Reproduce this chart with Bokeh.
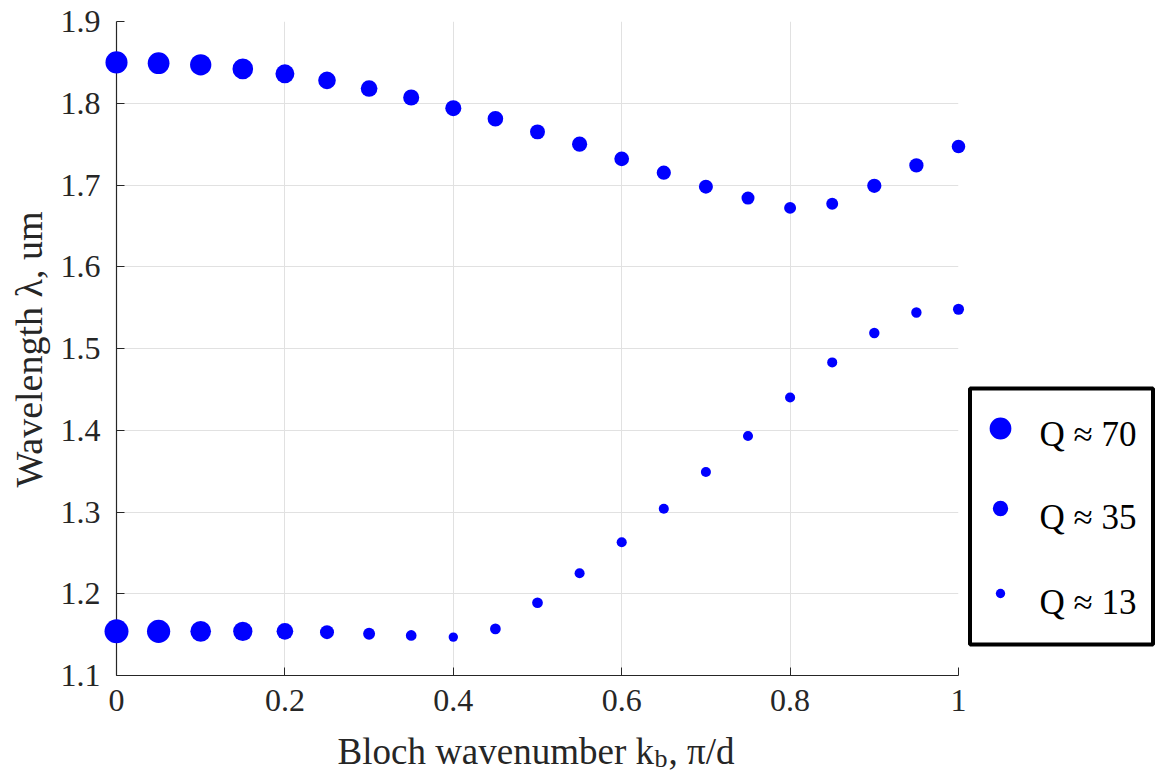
import math
from bokeh.plotting import figure
from bokeh.models import ColumnDataSource, FixedTicker, Range1d
from bokeh.core.properties import value
from bokeh.embed import file_html
from bokeh.resources import INLINE

# ---------------- data ----------------
k_b = [0.0, 0.05, 0.1, 0.15, 0.2, 0.25, 0.3, 0.35, 0.4, 0.45, 0.5,
       0.55, 0.6, 0.65, 0.7, 0.75, 0.8, 0.85, 0.9, 0.95, 1.0]
wl_upper = [1.850, 1.849, 1.847, 1.842, 1.836, 1.828, 1.818, 1.807, 1.794, 1.781, 1.765,
            1.750, 1.732, 1.715, 1.698, 1.684, 1.672, 1.677, 1.699, 1.724, 1.747]
wl_lower = [1.154, 1.154, 1.154, 1.154, 1.154, 1.153, 1.151, 1.149, 1.147, 1.157, 1.189,
            1.225, 1.263, 1.304, 1.349, 1.393, 1.440, 1.483, 1.519, 1.544, 1.548]
q_upper = [72, 70, 67, 63, 53, 46, 41, 38, 38, 36, 33, 34, 32, 30, 29, 25, 21, 21, 30, 30, 27]
q_lower = [85, 80, 63, 55, 41, 29, 21, 17, 13, 17, 17, 15, 15, 15, 15, 15, 15, 15, 16, 16, 18]
legend_q = [70, 35, 13]
legend_labels = ["Q \u2248 70", "Q \u2248 35", "Q \u2248 13"]
x_ticks = [0, 0.2, 0.4, 0.6, 0.8, 1]
x_tick_labels = ["0", "0.2", "0.4", "0.6", "0.8", "1"]
y_ticks = [1.1, 1.2, 1.3, 1.4, 1.5, 1.6, 1.7, 1.8, 1.9]
y_tick_labels = ["1.1", "1.2", "1.3", "1.4", "1.5", "1.6", "1.7", "1.8", "1.9"]
x_label_parts = ["Bloch wavenumber k", "b", ", \u03c0/d"]
y_label = "Wavelength \u03bb, um"

# ---------------- style ----------------
FONT = "Liberation Serif"
BLUE = "#0000ff"
AX = "#262626"
GRID = "#e1e1e1"


def q_to_size(q):
    # marker area proportional to Q (diameter ~ sqrt(Q))
    return 2.6 * math.sqrt(q)


W, H = 1155, 772
FL, FT, FW, FH = 116, 21, 842, 654
XR = (0.0, 1.0)
YR = (1.1, 1.9)


def dx(px):
    return XR[0] + (px - FL) / FW * (XR[1] - XR[0])


def dy(px):
    return YR[1] - (px - FT) / FH * (YR[1] - YR[0])


p = figure(frame_width=FW, frame_height=FH, x_range=Range1d(*XR), y_range=Range1d(*YR),
           output_backend="svg", toolbar_location=None,
           min_border_left=FL, min_border_right=W - FL - FW, min_border_top=FT,
           min_border_bottom=H - FT - FH)
p.outline_line_color = None
p.background_fill_color = "white"
p.border_fill_color = "white"

p.xaxis.ticker = FixedTicker(ticks=x_ticks, minor_ticks=[])
p.yaxis.ticker = FixedTicker(ticks=y_ticks, minor_ticks=[])
p.xaxis.major_label_overrides = {t: l for t, l in zip(x_ticks, x_tick_labels)}
p.yaxis.major_label_overrides = {t: l for t, l in zip(y_ticks, y_tick_labels)}
for ax in (p.xaxis, p.yaxis):
    ax.major_tick_in = 8
    ax.major_tick_out = 0
    ax.minor_tick_line_color = None
    ax.axis_line_color = AX
    ax.axis_line_width = 1.2
    ax.major_tick_line_color = AX
    ax.major_label_text_font = FONT
    ax.major_label_text_font_size = "32px"
    ax.major_label_text_color = AX
p.yaxis.major_label_standoff = 16
p.xaxis.major_label_standoff = 14
p.grid.grid_line_color = GRID
p.grid.grid_line_width = 1

src_u = ColumnDataSource(dict(x=k_b, y=wl_upper, s=[q_to_size(q) for q in q_upper]))
src_l = ColumnDataSource(dict(x=k_b, y=wl_lower, s=[q_to_size(q) for q in q_lower]))
p.scatter("x", "y", size="s", source=src_u, fill_color=BLUE, line_color=None, level="overlay")
p.scatter("x", "y", size="s", source=src_l, fill_color=BLUE, line_color=None, level="overlay")

# axis labels (text glyphs at overlay level so they are not clipped to the frame)
p.text(x=[dx(28)], y=[dy(349)], text=[y_label], angle=math.pi / 2,
       text_align="center", text_baseline="middle", text_font=value(FONT),
       text_font_size="38px", text_color=AX, level="overlay")
p.text(x=[dx(337), dx(654), dx(668)], y=[dy(751), dy(758), dy(751)], text=x_label_parts,
       text_align="left", text_baseline="alphabetic", text_font=value(FONT),
       text_font_size=["37px", "26px", "37px"], text_color=AX, level="overlay")

# ---------------- legend (drawn outside the frame) ----------------
p.quad(left=[dx(969.5)], right=[dx(1152.5)], top=[dy(388)], bottom=[dy(644)],
       fill_color="white", line_color="black", line_width=4, level="overlay")
lsrc = ColumnDataSource(dict(x=[dx(1000)] * 3, y=[dy(428), dy(508), dy(593)],
                             s=[q_to_size(q) for q in legend_q],
                             tx=[dx(1039)] * 3, ty=[dy(434), dy(517), dy(602)], t=legend_labels))
p.ellipse("x", "y", width="s", height="s", width_units="screen", height_units="screen",
          source=lsrc, fill_color=BLUE, line_color=None, level="overlay")
p.text("tx", "ty", text="t", source=lsrc, text_font=value(FONT), text_font_size="35px",
       text_baseline="alphabetic", text_align="left", text_color="black", level="overlay")

open("out.html", "w").write(file_html(p, INLINE))
